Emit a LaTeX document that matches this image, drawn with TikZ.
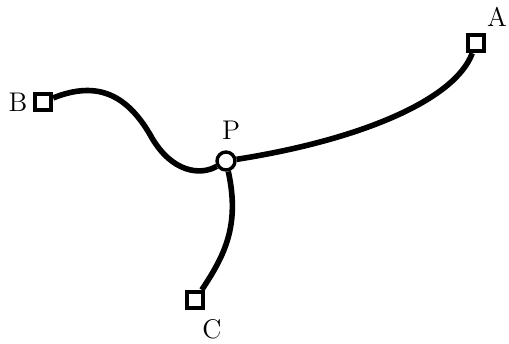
\documentclass[tikz,border=0pt]{standalone}
\usetikzlibrary{backgrounds}
\begin{document}
\begin{tikzpicture}[x=0.5pt,y=-0.5pt,
  term/.style={draw,line width=1.9pt,fill=white,minimum size=8.3pt,inner sep=0pt},
  junc/.style={draw,circle,line width=1.7pt,fill=white,minimum size=9pt,inner sep=0pt},
  wire/.style={line width=2.8pt},
  lbl/.style={font=\fontsize{13.5}{16}\selectfont,inner sep=0pt}]
\useasboundingbox (0,0) rectangle (509,343);
\node[term] (A) at (476,43) {};
\node[term] (B) at (43,102) {};
\node[term] (C) at (195,300) {};
\node[junc] (P) at (226,161) {};
\node[lbl] (la) at (497,17) {A};
\node[lbl] (lb) at (18,102) {B};
\node[lbl] (lc) at (212,329) {C};
\node[lbl] (lp) at (231,130) {P};
\begin{scope}[on background layer]
\draw[wire] (P) .. controls (360,140) and (455,100) .. (A);
\draw[wire] (B) .. controls (98,80) and (128,95) .. (152,138) .. controls (172,172) and (200,176) .. (P);
\draw[wire] (P) .. controls (240,225) and (225,255) .. (C);
\end{scope}
\end{tikzpicture}
\end{document}
